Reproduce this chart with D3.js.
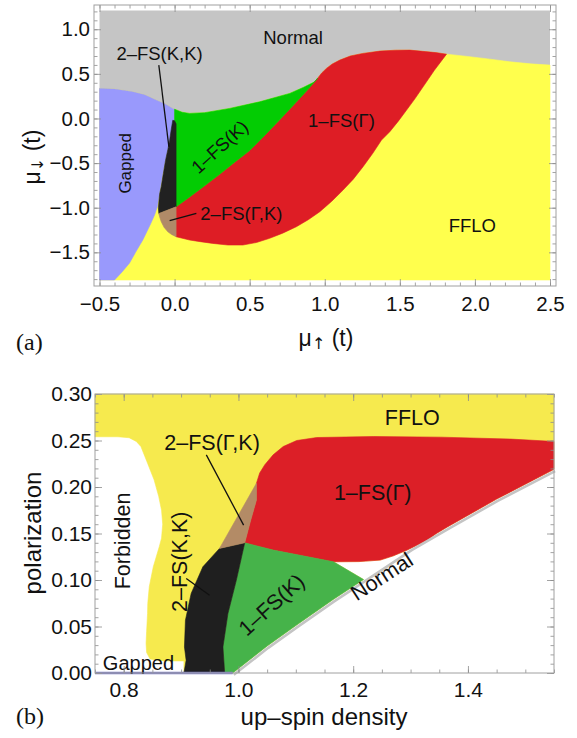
<!DOCTYPE html>
<html lang="en">
<head>
<meta charset="UTF-8" />
<title>Phase diagrams (a) mu_up / mu_down and (b) density / polarization</title>
<style>
  html, body { margin:0; padding:0; background:#fff; }
  svg { display:block; font-family:"Liberation Sans", Arial, sans-serif; }
</style>
</head>
<body>
<svg id="chart" width="577" height="738"></svg>
<script src="https://d3js.org/d3.v7.min.js"></script>
<script>
// ---------- panel (a): boundaries in (mu_up, mu_down) ----------
const aTopGapped = [[-0.5,0.337],[-0.4,0.33],[-0.28,0.30],[-0.2,0.265],[-0.12,0.205],[-0.06,0.16],[-0.01,0.11],[0,0.104]];
const aTopK = [[0,0.104],[0.05,0.07],[0.1,0.057],[0.2,0.065],[0.367,0.113],[0.567,0.187],[0.767,0.281],[0.86,0.35],[0.933,0.411],[0.953,0.452]];
const aTopGamma = [[0.953,0.452],[0.98,0.51],[1.011,0.561],[1.05,0.61],[1.1,0.654],[1.17,0.70],[1.253,0.729],[1.367,0.755],[1.47,0.765],[1.567,0.766],[1.653,0.752],[1.74,0.738],[1.811,0.721]];
const aTopFFLO = [[1.811,0.721],[1.95,0.695],[2.1,0.665],[2.233,0.635],[2.37,0.612],[2.5,0.598]];
const aKGammaEdge = [[0.01,-0.99],[0.1,-0.88],[0.2,-0.755],[0.3,-0.625],[0.4,-0.49],[0.5,-0.36],[0.6,-0.19],[0.7,-0.015],[0.8,0.165],[0.88,0.31],[0.953,0.452]];
const aGammaFFLOEdge = [[1.811,0.721],[1.73,0.54],[1.655,0.355],[1.6,0.22],[1.545,0.094],[1.49,-0.03],[1.433,-0.149],[1.378,-0.242],[1.32,-0.39],[1.255,-0.541],[1.19,-0.68],[1.122,-0.802],[1.045,-0.93],[0.967,-1.045],[0.89,-1.135],[0.811,-1.213],[0.72,-1.285],[0.633,-1.343],[0.545,-1.39],[0.455,-1.418],[0.355,-1.418],[0.255,-1.40],[0.17,-1.38],[0.1,-1.362],[0.01,-1.325]];
const aGappedEdge = [[0,0.104],[0,-0.02],[-0.02,-0.15],[-0.035,-0.26],[-0.051,-0.39],[-0.065,-0.5],[-0.078,-0.615],[-0.097,-0.8],[-0.115,-0.989],[-0.133,-1.08],[-0.158,-1.175],[-0.211,-1.36],[-0.26,-1.5],[-0.3,-1.62],[-0.35,-1.72],[-0.4,-1.81]];
const aKK = [[-0.012,-0.02],[0.0,-0.025],[0.01,-0.06],[0.01,-0.99],[-0.105,-1.065],[-0.108,-1.0],[-0.1,-0.85],[-0.089,-0.766],[-0.075,-0.62],[-0.06,-0.468],[-0.045,-0.35],[-0.033,-0.244],[-0.022,-0.12]];
const aGK = [[0.01,-0.99],[0.01,-1.325],[-0.02,-1.30],[-0.045,-1.27],[-0.07,-1.22],[-0.089,-1.157],[-0.1,-1.1],[-0.105,-1.065]];

const aLabels = [
  {text:"Normal", x:0.789, y:0.906, rot:0},
  {text:"2–FS(K,K)", x:-0.1, y:0.727, rot:0},
  {text:"Gapped", x:-0.328, y:-0.503, rot:-90},
  {text:"1–FS(K)", x:0.3, y:-0.317, rot:-42},
  {text:"1–FS(Γ)", x:1.111, y:-0.018, rot:0},
  {text:"2–FS(Γ,K)", x:0.445, y:-1.07, rot:0},
  {text:"FFLO", x:1.983, y:-1.203, rot:0}
];
const aLeaders = [[[-0.105,0.598],[-0.038,-0.317]], [[-0.033,-1.146],[0.145,-1.063]]];

const aXMajor = [-0.5,0,0.5,1,1.5,2,2.5];
const aXMinor = d3.range(-5, 26).map(i => i/10);
const aYMajor = [-1.5,-1,-0.5,0,0.5,1];
const aYMinor = d3.range(-18, 13).map(i => i/10);

// ---------- panel (b): boundaries in (up-spin density, polarization) ----------
const bForbiddenEdge = [[0.75,0.254],[0.79,0.254],[0.8095,0.253],[0.822,0.249],[0.83,0.2435],[0.8416,0.2256],[0.853,0.2077],[0.861,0.19],[0.866,0.175],[0.868,0.16],[0.866,0.145],[0.862,0.1358],[0.8516,0.1142],[0.8446,0.0927],[0.842,0.075],[0.8416,0.064],[0.84,0.045],[0.839,0.0317],[0.84,0.022],[0.846,0.015],[0.87,0.013],[0.905,0.013]];
const bNormalEdge = [[0.99,0],[1.05,0.029],[1.1,0.051],[1.165,0.079],[1.218,0.1005],[1.3,0.134],[1.364,0.157],[1.45,0.187],[1.55,0.219]];
const bGammaTop = [[1.0314,0.204],[1.037,0.215],[1.046,0.224],[1.0605,0.2346],[1.078,0.2435],[1.1015,0.25],[1.1365,0.2532],[1.236,0.2543],[1.352,0.2536],[1.475,0.2515],[1.55,0.249]];
const bGammaBottom = [[1.364,0.157],[1.345,0.15],[1.329,0.143],[1.31,0.137],[1.294,0.1322],[1.27,0.126],[1.247,0.1214],[1.21,0.1198],[1.1656,0.1196]];
const bKTop = [[1.011,0.140],[1.0605,0.1322],[1.1656,0.1196],[1.218,0.1005]];
const bKKRight = [[1.011,0.140],[0.9964,0.0999],[0.9817,0.064],[0.973,0.028],[0.976,0]];
const bKKLeft = [[0.905,0],[0.9088,0.0137],[0.9059,0.028],[0.9076,0.0568],[0.9176,0.0856],[0.938,0.1142],[0.967,0.134]];
const bGK = [[0.967,0.134],[1.011,0.140],[1.0215,0.1645],[1.0314,0.186],[1.0314,0.204]];

const bLabels = [
  {text:"FFLO", x:1.303, y:0.274, rot:0},
  {text:"2–FS(Γ,K)", x:0.954, y:0.2475, rot:0},
  {text:"1–FS(Γ)", x:1.234, y:0.194, rot:0},
  {text:"Forbidden", x:0.799, y:0.142, rot:-90},
  {text:"2–FS(K,K)", x:0.899, y:0.1196, rot:-90},
  {text:"1–FS(K)", x:1.058, y:0.073, rot:-42},
  {text:"Normal", x:1.25, y:0.1034, rot:-33},
  {text:"Gapped", x:0.8257, y:0.0105, rot:0}
];
const bLeaders = [[[0.944,0.2346],[1.009,0.159]], [[0.909,0.1017],[0.9497,0.0837]]];
const bGappedLine = [[0.75,0],[0.99,0]];

const bXMajor = [0.8,1.0,1.2,1.4];
const bXMinor = d3.range(15, 32).map(i => i/20);
const bYMajor = [0,0.05,0.10,0.15,0.20,0.25,0.30];
const bYMinor = d3.range(0, 31).map(i => i/100);

// ---------- drawing ----------
const svg = d3.select("#chart");
const ink = "#111";

const xa = d3.scaleLinear().domain([-0.5, 2.5]).range([99.5, 550]);
const ya = d3.scaleLinear().domain([-1.81, 1.21]).range([280, 10.5]);
const xb = d3.scaleLinear().domain([0.75, 1.55]).range([95, 554]);
const yb = d3.scaleLinear().domain([0, 0.3]).range([673, 394]);

function poly(g, x, y, pts, fill) {
  const line = d3.line().x(d => x(d[0])).y(d => y(d[1]));
  g.append("path").attr("d", line(pts) + "Z").attr("fill", fill)
    .attr("stroke", fill).attr("stroke-width", 0.6).attr("stroke-linejoin", "round");
}

function lines(g, x, y, segs, color, w) {
  const line = d3.line().x(d => x(d[0])).y(d => y(d[1]));
  segs.forEach(s => g.append("path").attr("d", line(s)).attr("fill", "none")
    .attr("stroke", color).attr("stroke-width", w));
}

function labels(g, x, y, list, size) {
  list.forEach(d => {
    g.append("text")
      .attr("transform", `translate(${x(d.x)},${y(d.y)}) rotate(${d.rot})`)
      .attr("text-anchor", "middle").attr("dominant-baseline", "central")
      .attr("font-size", d.text === "Gapped" ? size - 1.5 : size)
      .attr("fill", ink).text(d.text);
  });
}

function frame(g, x, y, box, o) {
  const mk = {bottom: d3.axisBottom, top: d3.axisTop, left: d3.axisLeft, right: d3.axisRight};
  const at = {bottom: `translate(0,${box.y1})`, top: `translate(0,${box.y0})`,
              left: `translate(${box.x0},0)`, right: `translate(${box.x1},0)`};
  ["bottom","top","left","right"].forEach(side => {
    const horiz = side === "bottom" || side === "top";
    const sc = horiz ? x : y;
    const minor = (horiz ? o.xMinor : o.yMinor);
    const major = (horiz ? o.xMajor : o.yMajor);
    const gMin = g.append("g").attr("transform", at[side])
      .call(mk[side](sc).tickValues(minor).tickSize(-3.5).tickFormat(""));
    const showLab = side === "bottom" || side === "left";
    const ax = mk[side](sc).tickValues(major).tickSize(-7)
      .tickFormat(showLab ? (horiz ? o.xFmt : o.yFmt) : "")
      .tickPadding(horiz ? o.padX : o.padY);
    const gMaj = g.append("g").attr("transform", at[side]).call(ax);
    [gMin, gMaj].forEach(a => {
      a.select(".domain").remove();
      a.selectAll(".tick line").attr("stroke", "#8c8c8c").attr("stroke-width", 0.8);
      a.attr("font-family", null).attr("font-size", o.fs);
      a.selectAll(".tick text").attr("fill", ink);
    });
  });
  g.append("rect").attr("x", box.x0).attr("y", box.y0)
    .attr("width", box.x1 - box.x0).attr("height", box.y1 - box.y0)
    .attr("fill", "none").attr("stroke", "#a0a0a0").attr("stroke-width", 1);
}

// ---- panel (a) ----
const ga = svg.append("g");
ga.append("rect").attr("x", xa(-0.5)).attr("y", ya(1.21))
  .attr("width", xa(2.5) - xa(-0.5)).attr("height", ya(-1.81) - ya(1.21)).attr("fill", "#c5c5c5");
poly(ga, xa, ya, [[-0.5,-1.81], ...aTopGapped, ...aTopK, ...aTopGamma, ...aTopFFLO, [2.5,-1.81]], "#ffff4d");
poly(ga, xa, ya, [[-0.5,-1.81], ...aTopGapped, ...aGappedEdge], "#9999fc");
poly(ga, xa, ya, [...aKGammaEdge, ...aTopGamma, ...aGammaFFLOEdge], "#de1d25");
poly(ga, xa, ya, [...aTopK, ...aKGammaEdge.slice().reverse(), [0,-0.99]], "#03cc03");
poly(ga, xa, ya, aKK, "#212121");
poly(ga, xa, ya, aGK, "#b08a68");
lines(ga, xa, ya, aLeaders, ink, 1.3);
labels(ga, xa, ya, aLabels, 18.5);
frame(ga, xa, ya, {x0:94, x1:556, y0:5, y1:286},
  {xMajor:aXMajor, xMinor:aXMinor, yMajor:aYMajor, yMinor:aYMinor,
   xFmt:d3.format(".1f"), yFmt:d3.format(".1f"), padX:10, padY:4, fs:20.5});

const arrowFont = "'DejaVu Sans', sans-serif";
const tA = ga.append("text").attr("x", 326).attr("y", 346).attr("text-anchor", "middle")
  .attr("font-size", 23).attr("fill", ink);
tA.append("tspan").text("μ");
tA.append("tspan").attr("font-family", arrowFont).attr("font-size", 16).attr("dy", 3).text("↑");
tA.append("tspan").attr("dy", -3).text(" (t)");
const tAy = ga.append("text").attr("transform", "translate(40,157) rotate(-90)")
  .attr("text-anchor", "middle").attr("font-size", 23).attr("fill", ink);
tAy.append("tspan").text("μ");
tAy.append("tspan").attr("font-family", arrowFont).attr("font-size", 16).attr("dy", 3).text("↓");
tAy.append("tspan").attr("dy", -3).text(" (t)");
ga.append("text").attr("x", 16).attr("y", 350).attr("font-family", "'Liberation Serif', 'Times New Roman', serif")
  .attr("font-size", 24).attr("fill", ink).text("(a)");

// ---- panel (b) ----
const gb = svg.append("g");
const nHigh = bNormalEdge.filter(d => d[0] >= 1.364);
const nLow = bNormalEdge.filter(d => d[0] <= 1.218);
poly(gb, xb, yb, [[0.75,0.3],[1.55,0.3], ...nHigh.slice().reverse(), ...bGammaBottom,
  ...nLow.slice().reverse(), [0.905,0], ...bForbiddenEdge.slice().reverse()], "#f6ea4e");
poly(gb, xb, yb, [[1.011,0.140],[1.0215,0.1645],[1.0314,0.186], ...bGammaTop,
  ...nHigh.slice().reverse(), ...bGammaBottom, [1.0605,0.1322]], "#dc1f27");
poly(gb, xb, yb, [...bKTop, ...nLow.slice().reverse(), ...bKKRight.slice().reverse()], "#46b34a");
poly(gb, xb, yb, [...bKKRight, ...bKKLeft], "#1f1f1f");
poly(gb, xb, yb, bGK, "#b38b66");
lines(gb.append("g").attr("transform", "translate(1.1,1.8)"), xb, yb, [bNormalEdge], "#c4c4c4", 2.6);
lines(gb, xb, yb, [bGappedLine], "#7b7bc6", 2.6);
lines(gb, xb, yb, bLeaders, ink, 1.3);
labels(gb, xb, yb, bLabels, 21.5);
frame(gb, xb, yb, {x0:95, x1:554, y0:394, y1:673},
  {xMajor:bXMajor, xMinor:bXMinor, yMajor:bYMajor, yMinor:bYMinor,
   xFmt:d3.format(".1f"), yFmt:d3.format(".2f"), padX:9, padY:3, fs:21});

gb.append("text").attr("x", 324).attr("y", 725).attr("text-anchor", "middle")
  .attr("font-size", 24).attr("fill", ink).text("up–spin density");
gb.append("text").attr("transform", "translate(41,533) rotate(-90)")
  .attr("text-anchor", "middle").attr("font-size", 24).attr("fill", ink).text("polarization");
gb.append("text").attr("x", 16).attr("y", 724).attr("font-family", "'Liberation Serif', 'Times New Roman', serif")
  .attr("font-size", 24).attr("fill", ink).text("(b)");
</script>
</body>
</html>
